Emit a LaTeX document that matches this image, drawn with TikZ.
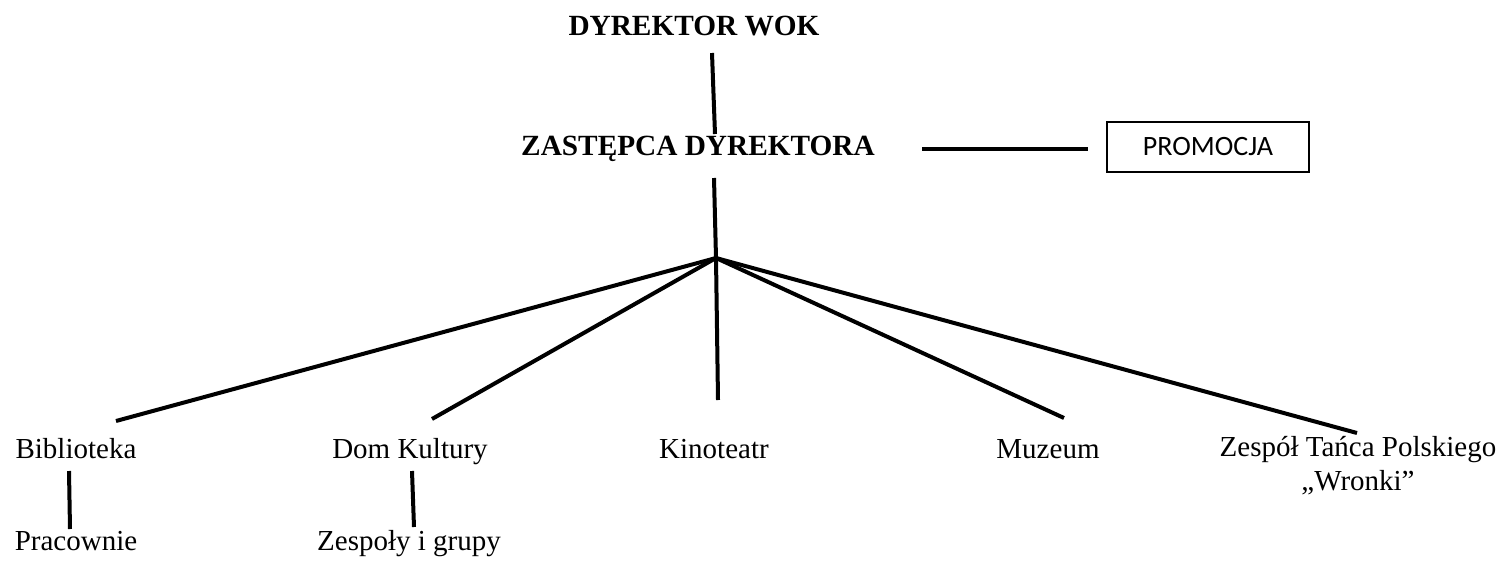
\documentclass[tikz,border=0pt]{standalone}
\usepackage{fontspec}
\setmainfont{Liberation Serif}
\newfontfamily\calfont{Carlito}
\begin{document}
\begin{tikzpicture}[x=1pt,y=-1pt,
  lbl/.style={anchor=base,inner sep=0pt,font=\fontsize{29}{33}\selectfont},
  ttl/.style={lbl,font=\fontsize{29.3}{33}\selectfont\bfseries},
  conn/.style={line width=4pt,line cap=butt},
  promobox/.style={draw,line width=1.6pt,minimum width=202pt,minimum height=50pt,inner sep=0pt,font=\calfont\fontsize{28}{32}\selectfont}]
\useasboundingbox (0,0) rectangle (1508,560);
\fill[white] (0,0) rectangle (1508,560);
% titles
\node[ttl] (dyr) at (694,35) {DYREKTOR WOK};
\node[ttl] (zast) at (698,155) {ZASTĘPCA DYREKTORA};
\node[promobox] (promo) at (1208,147) {PROMOCJA};
% bottom labels
\node[lbl] (bib) at (76,458) {Biblioteka};
\node[lbl] (dom) at (410,458) {Dom Kultury};
\node[lbl] (kino) at (714,458) {Kinoteatr};
\node[lbl] (muz) at (1048,458) {Muzeum};
\node[lbl] (zesp) at (1358,456) {Zespół Tańca Polskiego};
\node[lbl] (wronki) at (1358,490) {„Wronki”};
\node[lbl] (prac) at (76,550) {Pracownie};
\node[lbl] (zgr) at (409,550) {Zespoły i grupy};
% connector end points
\coordinate (dyrB) at (712,53);
\coordinate (zastT) at (715,134);
\coordinate (zastB) at (714,178);
\coordinate (hub) at (716,258);
\coordinate (zastR) at (922,149);
\coordinate (promoL) at (1088,149);
\coordinate (bibT) at (116,421);
\coordinate (domT) at (432,419);
\coordinate (kinoT) at (718,400);
\coordinate (muzT) at (1064,418);
\coordinate (zespT) at (1357,433);
\coordinate (bibB) at (69,471);
\coordinate (pracT) at (70,529);
\coordinate (domB) at (412,471);
\coordinate (zgrT) at (414,527);
% connectors
\draw[conn] (dyrB) -- (zastT);
\draw[conn] (zastB) -- (hub);
\draw[conn] (zastR) -- (promoL);
\draw[conn] (hub) -- (bibT);
\draw[conn] (hub) -- (domT);
\draw[conn] (hub) -- (kinoT);
\draw[conn] (hub) -- (muzT);
\draw[conn] (hub) -- (zespT);
\draw[conn] (bibB) -- (pracT);
\draw[conn] (domB) -- (zgrT);
\end{tikzpicture}
\end{document}
